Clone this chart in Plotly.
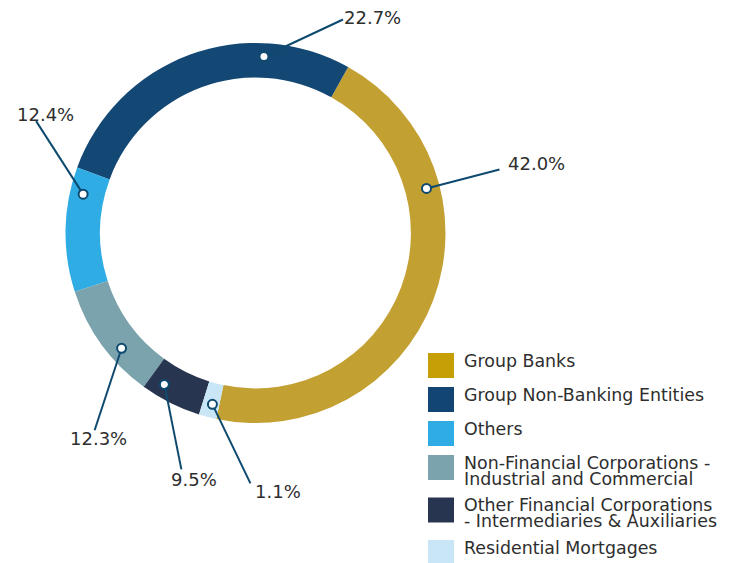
import math
import plotly.graph_objects as go

# ---------------- data ----------------
categories = [
    "Group Banks",
    "Group Non-Banking Entities",
    "Others",
    "Non-Financial Corporations - Industrial and Commercial",
    "Other Financial Corporations - Intermediaries & Auxiliaries",
    "Residential Mortgages",
]
legend_lines = [
    ["Group Banks"],
    ["Group Non-Banking Entities"],
    ["Others"],
    ["Non-Financial Corporations -", "Industrial and Commercial"],
    ["Other Financial Corporations", "- Intermediaries & Auxiliaries"],
    ["Residential Mortgages"],
]
slice_values = [45.2, 27.5, 10.6, 10.0, 5.2, 1.5]          # arc shares as drawn
label_texts = ["42.0%", "22.7%", "12.4%", "12.3%", "9.5%", "1.1%"]
ring_colors = ["#C3A032", "#134774", "#2EACE3", "#7BA3AD", "#283550", "#C9E6F7"]
swatch_colors = ["#C69E05", "#124574", "#2EACE3", "#7BA3AD", "#283550", "#C9E6F7"]

# ---------------- layout constants ----------------
PAGE_MARGIN = 8                    # default body margin of the html page
W, H = 733 - PAGE_MARGIN, 563 - PAGE_MARGIN
CX, CY, R = 255.5, 233.0, 190.0    # in window pixels
HOLE = 0.818
START = 191.9                      # degrees clockwise from 12 o'clock (clockwise edge of first arc)
DOT_R = R * 0.93
anchor_frac = [0.716, 0.267, 0.196, 0.632, 0.266, 0.59]   # where the dot sits inside each arc
line_offset = [(73, -19), (79, -37), (-47, -73), (-27, 82), (17, 85), (38, 79)]
label_offset = [(37.5, -6), (30, -2), (9, -7), (3.5, 8), (13, 10), (28, 8)]
LINE_COLOR = "#0E4A6F"
TEXT_COLOR = "#2E2E2E"
FONT = "DejaVu Sans"


def px(x):
    return (x - PAGE_MARGIN) / W


def py(y):
    return 1 - (y - PAGE_MARGIN) / H


total = sum(slice_values)

fig = go.Figure()
fig.add_trace(go.Pie(
    labels=categories,
    values=slice_values,
    marker=dict(colors=ring_colors, line=dict(width=0)),
    hole=HOLE,
    sort=False,
    direction="counterclockwise",
    rotation=START - slice_values[0] * 360 / total,
    textinfo="none",
    hoverinfo="label+percent",
    showlegend=False,
    domain=dict(x=[px(CX - R), px(CX + R)], y=[py(CY + R), py(CY - R)]),
))

shapes = []
annotations = []
cum = 0.0
dots = []
for i, v in enumerate(slice_values):
    a0 = START - cum * 360 / total
    theta = math.radians(a0 - anchor_frac[i] * v * 360 / total)
    dx = CX + DOT_R * math.sin(theta)
    dy = CY - DOT_R * math.cos(theta)
    dots.append((dx, dy))
    cum += v

for i, (dx, dy) in enumerate(dots):
    ex, ey = dx + line_offset[i][0], dy + line_offset[i][1]
    shapes.append(dict(type="line", xref="paper", yref="paper",
                       x0=px(dx), y0=py(dy), x1=px(ex), y1=py(ey),
                       line=dict(color=LINE_COLOR, width=2), layer="above"))
    lx, ly = ex + label_offset[i][0], ey + label_offset[i][1]
    annotations.append(dict(x=px(lx), y=py(ly), xref="paper", yref="paper",
                            text=label_texts[i], showarrow=False,
                            xanchor="center", yanchor="middle",
                            font=dict(family=FONT, size=18, color=TEXT_COLOR)))

for i, (dx, dy) in enumerate(dots):
    rr = 4.5
    shapes.append(dict(type="circle", xref="paper", yref="paper",
                       x0=px(dx - rr), x1=px(dx + rr), y0=py(dy + rr), y1=py(dy - rr),
                       fillcolor="white", line=dict(color=LINE_COLOR, width=2),
                       layer="above"))

# custom legend
LEG_X0, LEG_X1, LEG_TEXT_X = 428, 454, 462
top = 353.0
for i, lines in enumerate(legend_lines):
    shapes.append(dict(type="rect", xref="paper", yref="paper",
                       x0=px(LEG_X0), x1=px(LEG_X1), y0=py(top + 25), y1=py(top),
                       fillcolor=swatch_colors[i], line=dict(width=0), layer="above"))
    for k, t in enumerate(lines):
        annotations.append(dict(x=px(LEG_TEXT_X), y=py(top + 7.5 + 16 * k),
                                xref="paper", yref="paper", text=t, showarrow=False,
                                xanchor="left", yanchor="middle",
                                font=dict(family=FONT, size=17.4, color=TEXT_COLOR)))
    top += 34 if len(lines) == 1 else 42.5

fig.update_layout(
    width=W, height=H,
    margin=dict(l=0, r=0, t=0, b=0),
    paper_bgcolor="white",
    plot_bgcolor="white",
    shapes=shapes,
    annotations=annotations,
    showlegend=False,
)

fig.write_html("out.html")
